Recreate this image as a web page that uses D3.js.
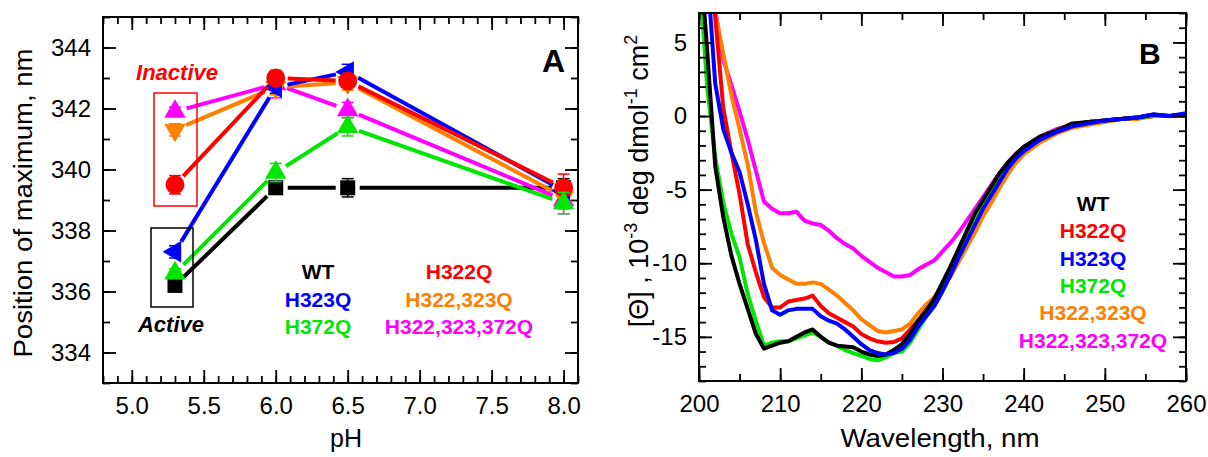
<!DOCTYPE html>
<html>
<head>
<meta charset="utf-8">
<script src="https://cdn.jsdelivr.net/npm/d3@7"></script>
<style>
  body { margin: 0; background: #fff; }
  text { font-family: "Liberation Sans", Arial, sans-serif; }
</style>
</head>
<body>
<svg id="chart" width="1208" height="457"></svg>
<script>
// ---------- Panel A data: position of fluorescence maximum vs pH ----------
var pH = [5.3, 6.0, 6.5, 8.0];
var wtA       = [336.2, 339.4, 339.4, 339.4];
var h322A     = [339.5, 343.0, 342.9, 339.4];
var h323A     = [337.3, 342.7, 343.2, 339.3];
var h372A     = [336.6, 339.9, 341.4, 338.9];
var h322323A  = [341.3, 342.7, 342.85, 339.1];
var h322323372A = [341.9, 342.8, 341.95, 339.0];
var wtErr       = [0.15, 0.2, 0.3, 0.3];
var h322Err     = [0.3, 0.2, 0.2, 0.45];
var h323Err     = [0.2, 0.2, 0.25, 0.3];
var h372Err     = [0.15, 0.3, 0.3, 0.35];
var h322323Err  = [0.2, 0.25, 0.25, 0.4];
var h322323372Err = [0.15, 0.45, 0.25, 0.45];
var phTicks = [5.0, 5.5, 6.0, 6.5, 7.0, 7.5, 8.0];
var posTicks = [334, 336, 338, 340, 342, 344];

// ---------- Panel B data: far-UV CD spectra ----------
var wavelength = [200, 201, 202, 203, 204, 205, 206, 207, 208, 209, 210, 211, 212, 213, 214, 215, 216, 217, 218, 219, 220,
  221, 222, 223, 224, 225, 226, 227, 228, 229, 230, 231, 232, 233, 234, 235, 236, 237, 238, 239, 240,
  242, 244, 246, 248, 250, 252, 254, 256, 258, 260];
var wtB = [12.0, 4.5, -3.4, -6.9, -9.5, -11.4, -13.1, -14.8, -15.8, -15.6, -15.4, -15.3, -15.0, -14.7, -14.5, -15.0, -15.4, -15.6, -15.65, -15.7, -16.0,
  -16.2, -16.3, -16.2, -15.9, -15.5, -14.8, -13.9, -13.2, -12.4, -11.3, -10.2, -9.0, -7.8, -6.6, -5.7, -4.8, -3.9, -3.2, -2.6, -2.1,
  -1.4, -1.0, -0.5, -0.4, -0.3, -0.2, -0.1, 0.1, 0.0, 0.1];
var h322B = [22.0, 12.0, 6.7, 0.5, -2.5, -5.3, -8.7, -10.6, -12.3, -13.0, -13.0, -12.6, -12.5, -12.4, -12.2, -12.9, -13.4, -13.7, -14.0, -14.3, -14.8,
  -15.1, -15.3, -15.4, -15.35, -15.1, -14.5, -13.9, -13.2, -12.5, -11.5, -10.4, -9.3, -8.1, -6.9, -5.9, -5.0, -4.1, -3.4, -2.8, -2.3,
  -1.6, -1.1, -0.6, -0.4, -0.3, -0.2, -0.1, 0.0, 0.0, 0.1];
var h323B = [20.0, 10.0, 2.2, -0.9, -2.5, -3.8, -6.0, -8.4, -11.4, -13.2, -13.5, -13.2, -13.1, -13.1, -13.1, -13.6, -13.9, -14.1, -14.5, -15.0, -15.5,
  -15.9, -16.1, -16.2, -16.1, -15.8, -15.2, -14.3, -13.6, -12.9, -11.9, -10.8, -9.6, -8.5, -7.4, -6.3, -5.4, -4.5, -3.6, -2.9, -2.4,
  -1.6, -1.1, -0.7, -0.5, -0.3, -0.2, -0.1, 0.1, 0.0, 0.2];
var h372B = [10.0, 2.0, -2.8, -5.9, -8.0, -9.6, -12.1, -13.9, -15.6, -15.4, -15.3, -15.3, -15.1, -14.9, -14.7, -15.0, -15.4, -15.6, -15.9, -16.1, -16.3,
  -16.5, -16.6, -16.4, -16.1, -16.0, -15.4, -14.5, -13.6, -12.7, -11.6, -10.5, -9.3, -8.1, -6.9, -5.9, -4.9, -4.0, -3.3, -2.7, -2.2,
  -1.5, -1.0, -0.6, -0.4, -0.3, -0.2, -0.1, 0.0, 0.0, 0.0];
var h322323B = [20.0, 12.0, 7.0, 4.2, 1.4, -0.9, -3.3, -6.5, -8.6, -10.3, -10.8, -11.1, -11.4, -11.4, -11.3, -11.4, -11.8, -12.2, -12.7, -13.2, -13.8,
  -14.2, -14.6, -14.7, -14.6, -14.5, -14.1, -13.4, -12.8, -12.3, -11.6, -10.9, -9.9, -8.9, -7.9, -6.8, -5.9, -4.9, -4.0, -3.2, -2.6,
  -1.8, -1.2, -0.8, -0.6, -0.4, -0.2, -0.2, 0.0, 0.0, 0.1];
var h322323372B = [20.0, 12.0, 7.2, 3.8, 2.1, 0.3, -1.6, -3.7, -5.8, -6.3, -6.6, -6.6, -6.5, -7.1, -7.3, -7.4, -7.8, -8.3, -8.7, -9.0, -9.5,
  -9.9, -10.3, -10.6, -10.9, -10.9, -10.8, -10.4, -10.1, -9.8, -9.2, -8.6, -7.9, -7.1, -6.3, -5.5, -4.7, -3.9, -3.2, -2.6, -2.1,
  -1.4, -0.9, -0.6, -0.4, -0.3, -0.2, -0.1, 0.0, 0.0, 0.1];
var wlTicks = [200, 210, 220, 230, 240, 250, 260];
var cdTicks = [-15, -10, -5, 0, 5];

var C = {black: "#000000", red: "#ff0000", blue: "#0000ff", green: "#00e600", orange: "#ff8000", magenta: "#ff00ff"};

var svg = d3.select("#chart");

// plain hyphen for negative tick labels, like the original
var intFmt = function(d) { return String(d); };

// draws box frame + inward ticks on all four sides
function drawFrame(x, y, xMajor, xMinor, yMajor, yMinor, xFmt, yFmt) {
  var xr = x.range(), yr = y.range();
  var g = svg.append("g");
  function ax(axis, tr, vals, size, fmt, pad) {
    var a = g.append("g").attr("transform", tr)
      .call(axis.tickValues(vals).tickSizeInner(-size).tickSizeOuter(0).tickPadding(pad).tickFormat(fmt));
    a.select(".domain").remove();
    a.selectAll("line").attr("stroke", "#000").attr("stroke-width", 1.8);
    a.selectAll("text").attr("font-size", 24).attr("fill", "#000");
    return a;
  }
  var none = function() { return ""; };
  ax(d3.axisBottom(x), "translate(0," + yr[0] + ")", xMajor, 13, xFmt, 14);
  ax(d3.axisBottom(x), "translate(0," + yr[0] + ")", xMinor, 7, none, 0);
  ax(d3.axisTop(x), "translate(0," + yr[1] + ")", xMajor, 13, none, 0);
  ax(d3.axisTop(x), "translate(0," + yr[1] + ")", xMinor, 7, none, 0);
  ax(d3.axisLeft(y), "translate(" + xr[0] + ",0)", yMajor, 13, yFmt, 12);
  ax(d3.axisLeft(y), "translate(" + xr[0] + ",0)", yMinor, 7, none, 0);
  ax(d3.axisRight(y), "translate(" + xr[1] + ",0)", yMajor, 13, none, 0);
  ax(d3.axisRight(y), "translate(" + xr[1] + ",0)", yMinor, 7, none, 0);
  g.append("rect")
    .attr("x", xr[0]).attr("y", yr[1])
    .attr("width", xr[1] - xr[0]).attr("height", yr[0] - yr[1])
    .attr("fill", "none").attr("stroke", "#000").attr("stroke-width", 2);
}

// ================= Panel A =================
var xA = d3.scaleLinear().domain([4.8, 8.1]).range([103, 578]);
var yA = d3.scaleLinear().domain([333, 345]).range([383, 17]);

drawFrame(xA, yA, phTicks, d3.range(48, 82).map(function(d) { return d / 10; }),
  posTicks, d3.range(333, 346, 1), d3.format(".1f"), intFmt);

var seriesA = [
  {vals: wtA, err: wtErr, color: C.black, sym: d3.symbolSquare, size: 225, rot: 0},
  {vals: h322323372A, err: h322323372Err, color: C.magenta, sym: d3.symbolTriangle, size: 200, rot: 0},
  {vals: h322323A, err: h322323Err, color: C.orange, sym: d3.symbolTriangle, size: 200, rot: 180},
  {vals: h323A, err: h323Err, color: C.blue, sym: d3.symbolTriangle, size: 200, rot: -90},
  {vals: h322A, err: h322Err, color: C.red, sym: d3.symbolCircle, size: 280, rot: 0},
  {vals: h372A, err: h372Err, color: C.green, sym: d3.symbolTriangle, size: 200, rot: 0}
];

var gap = 12;
seriesA.forEach(function(s) {
  var g = svg.append("g");
  var pts = pH.map(function(p, i) { return [xA(p), yA(s.vals[i])]; });
  // connecting lines with a gap at each symbol
  for (var i = 0; i < pts.length - 1; i++) {
    var a = pts[i], b = pts[i + 1];
    var dx = b[0] - a[0], dy = b[1] - a[1], L = Math.sqrt(dx * dx + dy * dy);
    if (L <= 2 * gap) continue;
    var ux = dx / L, uy = dy / L;
    g.append("line")
      .attr("x1", a[0] + ux * gap).attr("y1", a[1] + uy * gap)
      .attr("x2", b[0] - ux * gap).attr("y2", b[1] - uy * gap)
      .attr("stroke", s.color).attr("stroke-width", 4).attr("stroke-linecap", "butt");
  }
  // error bars
  pH.forEach(function(p, i) {
    var cx = xA(p), lo = yA(s.vals[i] - s.err[i]), hi = yA(s.vals[i] + s.err[i]);
    g.append("line").attr("x1", cx).attr("x2", cx).attr("y1", lo).attr("y2", hi)
      .attr("stroke", s.color).attr("stroke-width", 1.5);
    [lo, hi].forEach(function(yy) {
      g.append("line").attr("x1", cx - 6).attr("x2", cx + 6).attr("y1", yy).attr("y2", yy)
        .attr("stroke", s.color).attr("stroke-width", 1.5);
    });
  });
  // symbols
  g.selectAll("path.sym").data(pH).enter().append("path")
    .attr("class", "sym")
    .attr("d", d3.symbol().type(s.sym).size(s.size))
    .attr("transform", function(p, i) {
      return "translate(" + xA(p) + "," + yA(s.vals[i]) + ") rotate(" + s.rot + ")";
    })
    .attr("fill", s.color);
});

// Inactive / Active boxes
svg.append("rect").attr("x", 154).attr("y", 93).attr("width", 43).attr("height", 113)
  .attr("fill", "none").attr("stroke", C.red).attr("stroke-width", 1.5);
svg.append("rect").attr("x", 151).attr("y", 228).attr("width", 42).attr("height", 79)
  .attr("fill", "none").attr("stroke", "#000").attr("stroke-width", 1.5);
svg.append("text").attr("x", 177).attr("y", 80).attr("text-anchor", "middle")
  .attr("font-size", 22).attr("font-weight", "bold").attr("font-style", "italic")
  .attr("fill", C.red).text("Inactive");
svg.append("text").attr("x", 171).attr("y", 332).attr("text-anchor", "middle")
  .attr("font-size", 22).attr("font-weight", "bold").attr("font-style", "italic")
  .attr("fill", "#000").text("Active");

// legend A
var legA = [
  {t: "WT", c: C.black, x: 318, row: 0}, {t: "H323Q", c: C.blue, x: 318, row: 1}, {t: "H372Q", c: C.green, x: 318, row: 2},
  {t: "H322Q", c: C.red, x: 459, row: 0}, {t: "H322,323Q", c: C.orange, x: 459, row: 1}, {t: "H322,323,372Q", c: C.magenta, x: 459, row: 2}
];
svg.selectAll("text.legA").data(legA).enter().append("text")
  .attr("class", "legA")
  .attr("x", function(d) { return d.x; })
  .attr("y", function(d) { return 279 + d.row * 27.5; })
  .attr("text-anchor", "middle").attr("font-size", 21).attr("font-weight", "bold")
  .attr("fill", function(d) { return d.c; })
  .text(function(d) { return d.t; });

svg.append("text").attr("x", 542).attr("y", 72).attr("font-size", 32).attr("font-weight", "bold").text("A");

svg.append("text").attr("x", 346).attr("y", 447).attr("text-anchor", "middle").attr("font-size", 25).text("pH");
svg.append("text").attr("transform", "translate(32,203) rotate(-90)")
  .attr("text-anchor", "middle").attr("font-size", 25)
  .attr("textLength", 309).attr("lengthAdjust", "spacingAndGlyphs")
  .text("Position of maximum, nm");

// ================= Panel B =================
var xB = d3.scaleLinear().domain([200, 260]).range([699, 1186]);
var yB = d3.scaleLinear().domain([-18, 7]).range([381, 13]);

svg.append("clipPath").attr("id", "clipB").append("rect")
  .attr("x", 699).attr("y", 13).attr("width", 487).attr("height", 368);

var seriesB = [
  {vals: h322323372B, color: C.magenta},
  {vals: h322323B, color: C.orange},
  {vals: h322B, color: C.red},
  {vals: h372B, color: C.green},
  {vals: wtB, color: C.black},
  {vals: h323B, color: C.blue}
];
var lineB = d3.line()
  .x(function(d) { return xB(d[0]); })
  .y(function(d) { return yB(d[1]); });
var gB = svg.append("g").attr("clip-path", "url(#clipB)");
seriesB.forEach(function(s) {
  gB.append("path")
    .datum(wavelength.map(function(w, i) { return [w, s.vals[i]]; }))
    .attr("d", lineB)
    .attr("fill", "none").attr("stroke", s.color).attr("stroke-width", 4)
    .attr("stroke-linejoin", "round");
});

drawFrame(xB, yB, wlTicks, d3.range(200, 261, 5), cdTicks, d3.range(-18, 8, 1),
  intFmt, intFmt);

var legB = [
  {t: "WT", c: C.black}, {t: "H322Q", c: C.red}, {t: "H323Q", c: C.blue},
  {t: "H372Q", c: C.green}, {t: "H322,323Q", c: C.orange}, {t: "H322,323,372Q", c: C.magenta}
];
svg.selectAll("text.legB").data(legB).enter().append("text")
  .attr("class", "legB")
  .attr("x", 1093)
  .attr("y", function(d, i) { return 211 + i * 27.3; })
  .attr("text-anchor", "middle").attr("font-size", 21).attr("font-weight", "bold")
  .attr("fill", function(d) { return d.c; })
  .text(function(d) { return d.t; });

svg.append("text").attr("x", 1139).attr("y", 64).attr("font-size", 30).attr("font-weight", "bold").text("B");

svg.append("text").attr("x", 940).attr("y", 447).attr("text-anchor", "middle").attr("font-size", 25)
  .attr("textLength", 199).attr("lengthAdjust", "spacingAndGlyphs")
  .text("Wavelength, nm");

var yt = svg.append("text").attr("transform", "translate(648,181) rotate(-90)")
  .attr("text-anchor", "middle").attr("font-size", 27);
yt.append("tspan").text("[\u0398] , 10");
yt.append("tspan").attr("dy", -11).attr("font-size", 18).text("-3");
yt.append("tspan").attr("dy", 11).text(" deg dmol");
yt.append("tspan").attr("dy", -11).attr("font-size", 18).text("-1");
yt.append("tspan").attr("dy", 11).text(" cm");
yt.append("tspan").attr("dy", -11).attr("font-size", 18).text("2");
</script>
</body>
</html>
